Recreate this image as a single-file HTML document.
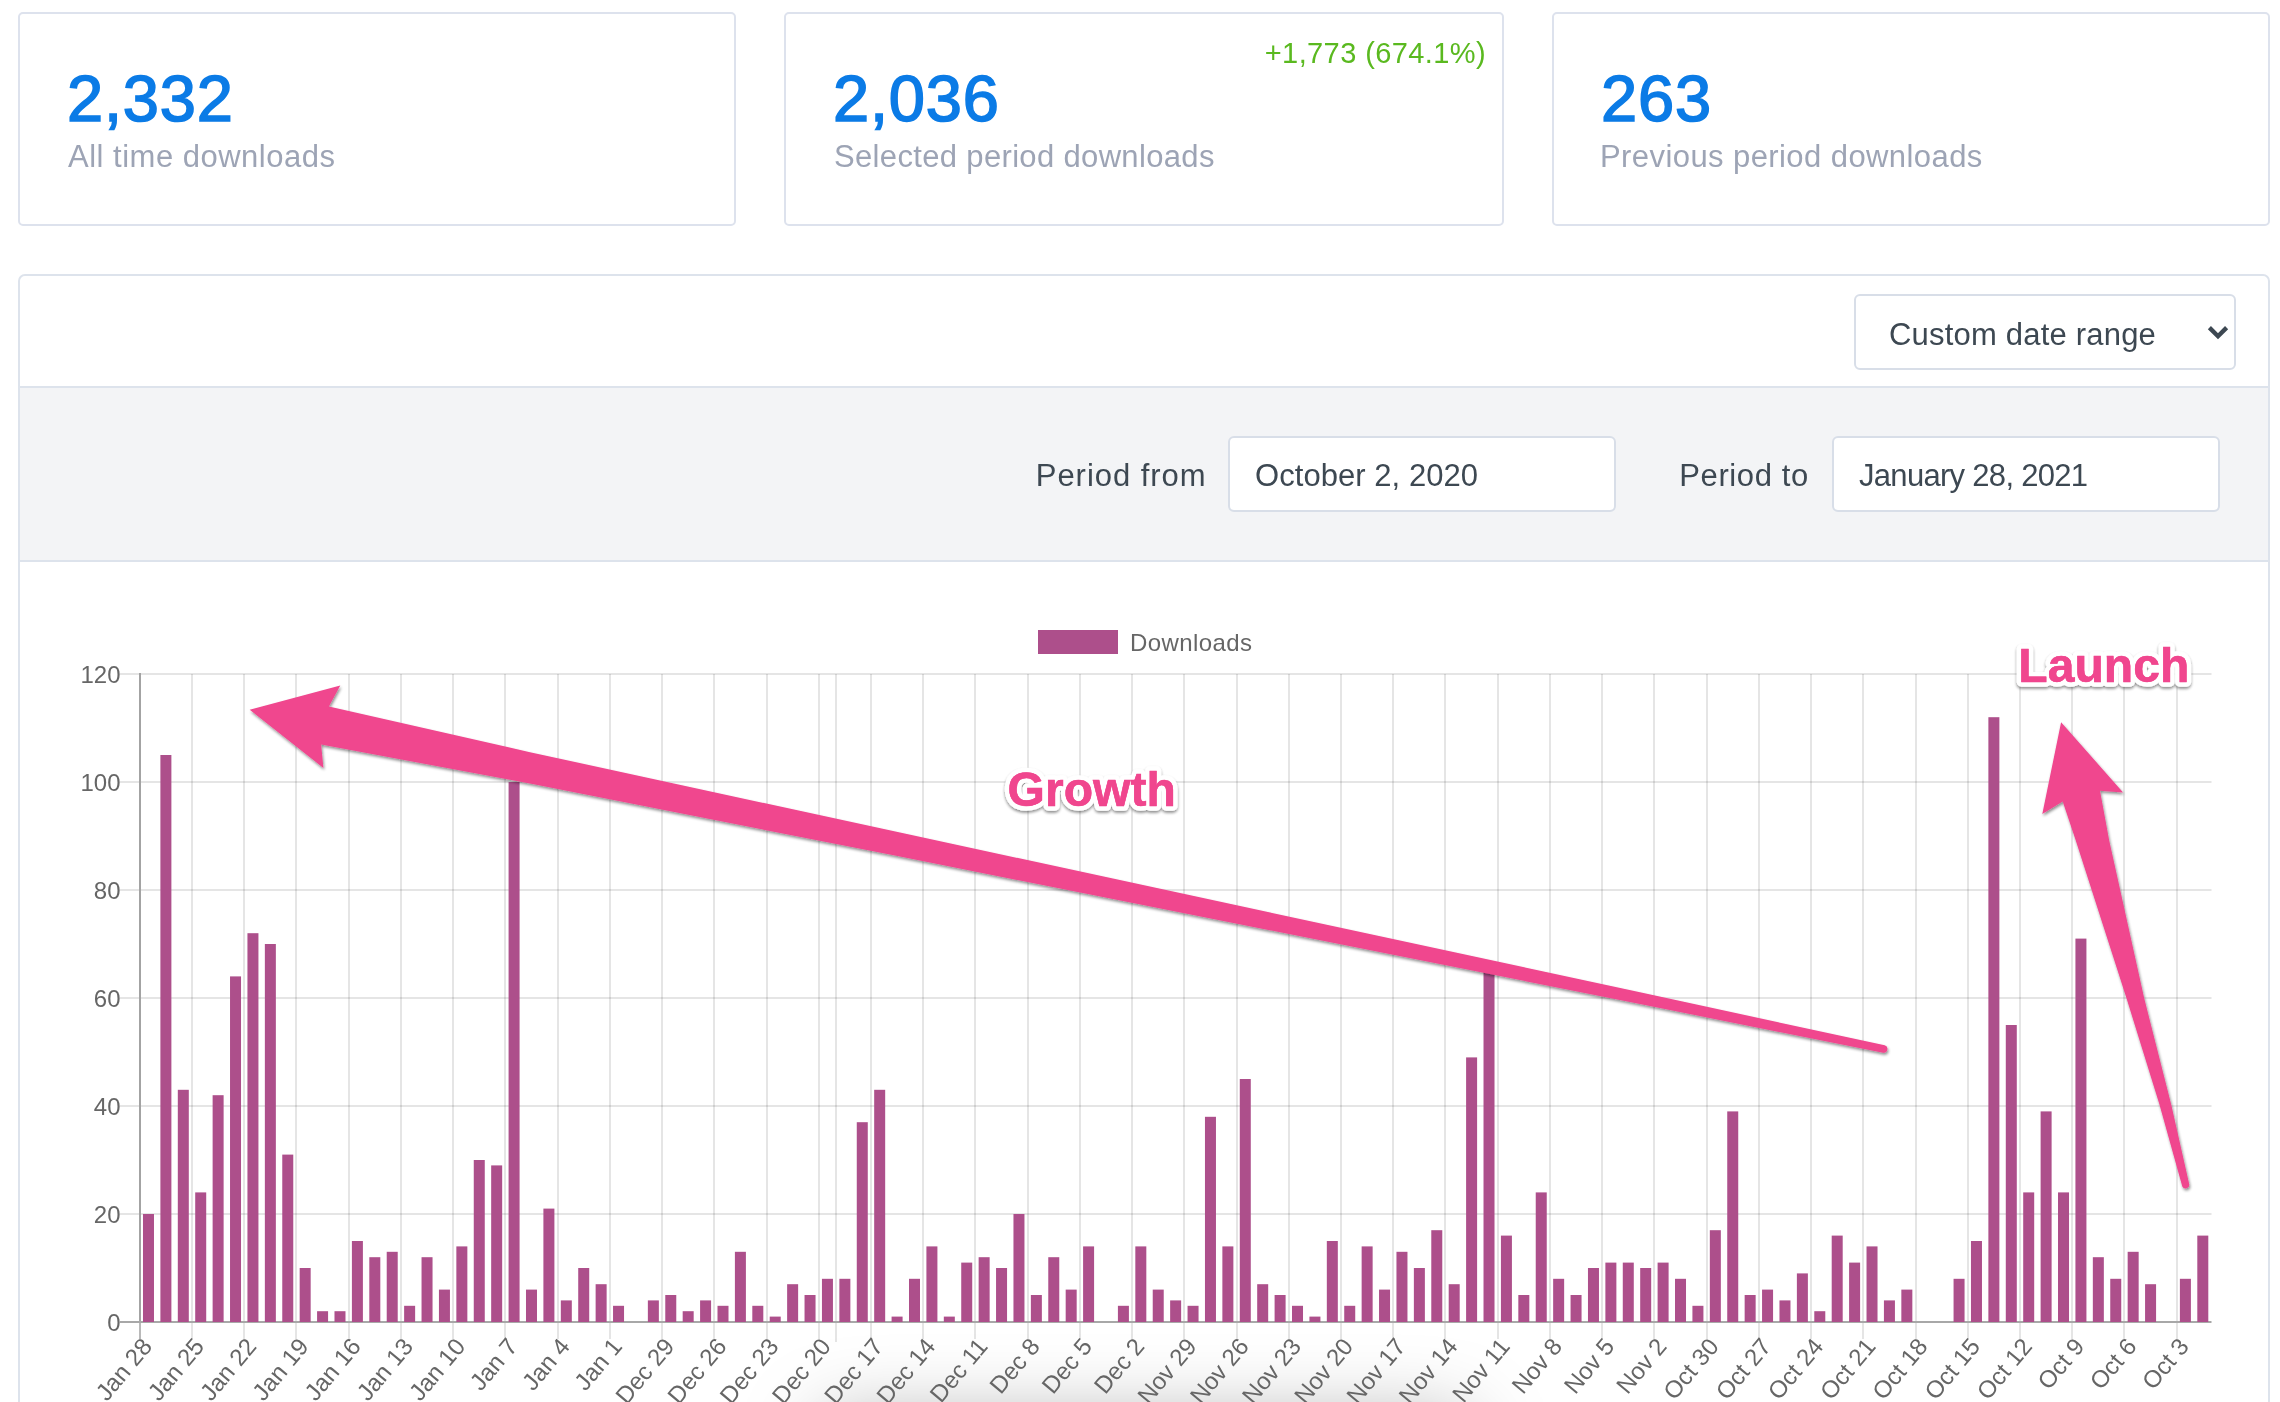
<!DOCTYPE html>
<html lang="en">
<head>
<meta charset="utf-8">
<title>Downloads</title>
<style>
html,body{margin:0;padding:0;background:#fff;overflow:hidden;}
body{width:2280px;height:1402px;}
#page{position:relative;width:2280px;height:1402px;overflow:hidden;background:#fff;will-change:transform;font-family:"Liberation Sans",sans-serif;}
.card{position:absolute;top:12px;height:214px;box-sizing:border-box;border:2px solid #dde2ed;border-radius:5px;background:#fff;}
.card .num{position:absolute;left:48px;top:48px;font-size:65px;line-height:74px;font-weight:normal;color:#0b7be6;-webkit-text-stroke:1.6px #0b7be6;letter-spacing:0.8px;margin-left:-1px;white-space:nowrap;}
.card .lab{position:absolute;left:48px;top:124.5px;font-size:31px;line-height:36px;color:#9da4b5;letter-spacing:0.5px;white-space:nowrap;}
.card .delta{position:absolute;right:16px;top:21px;font-size:29px;line-height:36px;color:#5ab91f;letter-spacing:0.4px;white-space:nowrap;}
.panel{position:absolute;left:18px;top:274px;width:2252px;height:1160px;box-sizing:border-box;border:2px solid #dde3ec;border-radius:7px;background:#fff;}
.filters{position:absolute;left:20px;top:386px;width:2248px;height:176px;box-sizing:border-box;border-top:2px solid #dde3ec;border-bottom:2px solid #dde3ec;background:#f3f4f6;}
.ctl{position:absolute;height:76px;box-sizing:border-box;border:2px solid #d8dee8;border-radius:6px;background:#fff;color:#3d4852;font-size:31px;line-height:72px;white-space:nowrap;letter-spacing:0.2px;}
.flab{position:absolute;font-size:31px;line-height:36px;color:#3d4852;white-space:nowrap;letter-spacing:0.2px;}
svg.chart{position:absolute;left:0;top:0;}
.winshadow{position:absolute;left:822px;top:1422px;width:646px;height:200px;border-radius:12px;background:#999;box-shadow:0 0 80px 0 rgba(0,0,0,0.345);}
svg text{font-family:"Liberation Sans",sans-serif;}
</style>
</head>
<body>
<div id="page">
<div class="card" style="left:18px;width:718px;"><div class="num">2,332</div><div class="lab">All time downloads</div></div>
<div class="card" style="left:784px;width:720px;"><div class="delta">+1,773 (674.1%)</div><div class="num">2,036</div><div class="lab" style="letter-spacing:0.34px">Selected period downloads</div></div>
<div class="card" style="left:1552px;width:718px;"><div class="num">263</div><div class="lab" style="left:46px;letter-spacing:0.42px">Previous period downloads</div></div>
<div class="panel"></div>
<div class="winshadow"></div>
<div class="ctl" style="left:1854px;top:294px;width:382px;"><span style="position:absolute;left:33px;top:3px;">Custom date range</span>
<svg width="24" height="18" viewBox="0 0 24 18" style="position:absolute;left:350px;top:28px;"><path d="M3.4 3.6 L12 12.2 L20.6 3.6" fill="none" stroke="#3d4852" stroke-width="4.4"/></svg></div>
<div class="filters"></div>
<div class="flab" style="left:1035.8px;top:458px;letter-spacing:0.95px;">Period from</div>
<div class="ctl" style="left:1228px;top:436px;width:388px;"><span style="position:absolute;left:25px;top:2px;letter-spacing:0.05px;">October 2, 2020</span></div>
<div class="flab" style="left:1679.3px;top:458px;letter-spacing:0.6px;">Period to</div>
<div class="ctl" style="left:1832px;top:436px;width:388px;"><span style="position:absolute;left:25px;top:2px;letter-spacing:-0.7px;">January 28, 2021</span></div>
<svg class="chart" width="2280" height="1402" viewBox="0 0 2280 1402">
<defs>
<filter id="ds" x="-5%" y="-5%" width="110%" height="115%"><feGaussianBlur in="SourceAlpha" stdDeviation="1.4"/><feOffset dx="1" dy="2.2"/><feComponentTransfer><feFuncA type="linear" slope="0.45"/></feComponentTransfer><feMerge><feMergeNode/><feMergeNode in="SourceGraphic"/></feMerge></filter>
<filter id="ts" x="-10%" y="-20%" width="120%" height="150%"><feGaussianBlur in="SourceAlpha" stdDeviation="1.5"/><feOffset dx="0" dy="2"/><feComponentTransfer><feFuncA type="linear" slope="0.45"/></feComponentTransfer><feMerge><feMergeNode/><feMergeNode in="SourceGraphic"/></feMerge></filter>
<radialGradient id="bsh" cx="0.5" cy="1" r="1" gradientTransform="translate(0.5 1) scale(0.5 1) translate(-0.5 -1)"><stop offset="0" stop-color="#000" stop-opacity="0.20"/><stop offset="0.45" stop-color="#000" stop-opacity="0.10"/><stop offset="0.8" stop-color="#000" stop-opacity="0.025"/><stop offset="1" stop-color="#000" stop-opacity="0"/></radialGradient>
</defs>
<rect x="1038" y="630" width="80" height="24" fill="#ad4f8b"/>
<text x="1130" y="650.5" font-size="24" fill="#666666" letter-spacing="0.4">Downloads</text>
<rect x="120" y="1321.0" width="20" height="2" fill="#000" fill-opacity="0.1"/>
<text x="120.5" y="1330.5" font-size="24" fill="#666666" text-anchor="end">0</text>
<rect x="120" y="1213.0" width="2091.5" height="2" fill="#000" fill-opacity="0.1"/>
<text x="120.5" y="1222.5" font-size="24" fill="#666666" text-anchor="end">20</text>
<rect x="120" y="1105.0" width="2091.5" height="2" fill="#000" fill-opacity="0.1"/>
<text x="120.5" y="1114.5" font-size="24" fill="#666666" text-anchor="end">40</text>
<rect x="120" y="997.0" width="2091.5" height="2" fill="#000" fill-opacity="0.1"/>
<text x="120.5" y="1006.5" font-size="24" fill="#666666" text-anchor="end">60</text>
<rect x="120" y="889.0" width="2091.5" height="2" fill="#000" fill-opacity="0.1"/>
<text x="120.5" y="898.5" font-size="24" fill="#666666" text-anchor="end">80</text>
<rect x="120" y="781.0" width="2091.5" height="2" fill="#000" fill-opacity="0.1"/>
<text x="120.5" y="790.5" font-size="24" fill="#666666" text-anchor="end">100</text>
<rect x="120" y="673.0" width="2091.5" height="2" fill="#000" fill-opacity="0.1"/>
<text x="120.5" y="682.5" font-size="24" fill="#666666" text-anchor="end">120</text>
<rect x="191.0" y="674.0" width="2" height="665.0" fill="#000" fill-opacity="0.1"/>
<rect x="243.0" y="674.0" width="2" height="665.0" fill="#000" fill-opacity="0.1"/>
<rect x="295.0" y="674.0" width="2" height="665.0" fill="#000" fill-opacity="0.1"/>
<rect x="348.0" y="674.0" width="2" height="665.0" fill="#000" fill-opacity="0.1"/>
<rect x="400.0" y="674.0" width="2" height="665.0" fill="#000" fill-opacity="0.1"/>
<rect x="452.0" y="674.0" width="2" height="665.0" fill="#000" fill-opacity="0.1"/>
<rect x="504.0" y="674.0" width="2" height="665.0" fill="#000" fill-opacity="0.1"/>
<rect x="557.0" y="674.0" width="2" height="665.0" fill="#000" fill-opacity="0.1"/>
<rect x="609.0" y="674.0" width="2" height="665.0" fill="#000" fill-opacity="0.1"/>
<rect x="661.0" y="674.0" width="2" height="665.0" fill="#000" fill-opacity="0.1"/>
<rect x="713.0" y="674.0" width="2" height="665.0" fill="#000" fill-opacity="0.1"/>
<rect x="766.0" y="674.0" width="2" height="665.0" fill="#000" fill-opacity="0.1"/>
<rect x="818.0" y="674.0" width="2" height="665.0" fill="#000" fill-opacity="0.1"/>
<rect x="870.0" y="674.0" width="2" height="665.0" fill="#000" fill-opacity="0.1"/>
<rect x="922.0" y="674.0" width="2" height="665.0" fill="#000" fill-opacity="0.1"/>
<rect x="974.0" y="674.0" width="2" height="665.0" fill="#000" fill-opacity="0.1"/>
<rect x="1027.0" y="674.0" width="2" height="665.0" fill="#000" fill-opacity="0.1"/>
<rect x="1079.0" y="674.0" width="2" height="665.0" fill="#000" fill-opacity="0.1"/>
<rect x="1131.0" y="674.0" width="2" height="665.0" fill="#000" fill-opacity="0.1"/>
<rect x="1183.0" y="674.0" width="2" height="665.0" fill="#000" fill-opacity="0.1"/>
<rect x="1236.0" y="674.0" width="2" height="665.0" fill="#000" fill-opacity="0.1"/>
<rect x="1288.0" y="674.0" width="2" height="665.0" fill="#000" fill-opacity="0.1"/>
<rect x="1340.0" y="674.0" width="2" height="665.0" fill="#000" fill-opacity="0.1"/>
<rect x="1392.0" y="674.0" width="2" height="665.0" fill="#000" fill-opacity="0.1"/>
<rect x="1444.0" y="674.0" width="2" height="665.0" fill="#000" fill-opacity="0.1"/>
<rect x="1497.0" y="674.0" width="2" height="665.0" fill="#000" fill-opacity="0.1"/>
<rect x="1549.0" y="674.0" width="2" height="665.0" fill="#000" fill-opacity="0.1"/>
<rect x="1601.0" y="674.0" width="2" height="665.0" fill="#000" fill-opacity="0.1"/>
<rect x="1653.0" y="674.0" width="2" height="665.0" fill="#000" fill-opacity="0.1"/>
<rect x="1706.0" y="674.0" width="2" height="665.0" fill="#000" fill-opacity="0.1"/>
<rect x="1758.0" y="674.0" width="2" height="665.0" fill="#000" fill-opacity="0.1"/>
<rect x="1810.0" y="674.0" width="2" height="665.0" fill="#000" fill-opacity="0.1"/>
<rect x="1862.0" y="674.0" width="2" height="665.0" fill="#000" fill-opacity="0.1"/>
<rect x="1915.0" y="674.0" width="2" height="665.0" fill="#000" fill-opacity="0.1"/>
<rect x="1967.0" y="674.0" width="2" height="665.0" fill="#000" fill-opacity="0.1"/>
<rect x="2019.0" y="674.0" width="2" height="665.0" fill="#000" fill-opacity="0.1"/>
<rect x="2071.0" y="674.0" width="2" height="665.0" fill="#000" fill-opacity="0.1"/>
<rect x="2123.0" y="674.0" width="2" height="665.0" fill="#000" fill-opacity="0.1"/>
<rect x="2176.0" y="674.0" width="2" height="665.0" fill="#000" fill-opacity="0.1"/>
<rect x="835.0" y="674.0" width="2" height="668.0" fill="#000" fill-opacity="0.1"/>
<rect x="139" y="673.0" width="2" height="650.0" fill="#a3a3a3"/>
<rect x="139" y="1323.0" width="2" height="16" fill="#b9b9b9"/>
<rect x="120" y="1321.0" width="2091.5" height="2" fill="#a8a8a8"/>
<rect x="142.98" y="1214.00" width="11.0" height="108.00" fill="#ad4f8b"/>
<rect x="160.39" y="755.00" width="11.0" height="567.00" fill="#ad4f8b"/>
<rect x="177.80" y="1089.80" width="11.0" height="232.20" fill="#ad4f8b"/>
<rect x="195.21" y="1192.40" width="11.0" height="129.60" fill="#ad4f8b"/>
<rect x="212.62" y="1095.20" width="11.0" height="226.80" fill="#ad4f8b"/>
<rect x="230.03" y="976.40" width="11.0" height="345.60" fill="#ad4f8b"/>
<rect x="247.44" y="933.20" width="11.0" height="388.80" fill="#ad4f8b"/>
<rect x="264.85" y="944.00" width="11.0" height="378.00" fill="#ad4f8b"/>
<rect x="282.26" y="1154.60" width="11.0" height="167.40" fill="#ad4f8b"/>
<rect x="299.67" y="1268.00" width="11.0" height="54.00" fill="#ad4f8b"/>
<rect x="317.08" y="1311.20" width="11.0" height="10.80" fill="#ad4f8b"/>
<rect x="334.49" y="1311.20" width="11.0" height="10.80" fill="#ad4f8b"/>
<rect x="351.90" y="1241.00" width="11.0" height="81.00" fill="#ad4f8b"/>
<rect x="369.31" y="1257.20" width="11.0" height="64.80" fill="#ad4f8b"/>
<rect x="386.72" y="1251.80" width="11.0" height="70.20" fill="#ad4f8b"/>
<rect x="404.13" y="1305.80" width="11.0" height="16.20" fill="#ad4f8b"/>
<rect x="421.54" y="1257.20" width="11.0" height="64.80" fill="#ad4f8b"/>
<rect x="438.94" y="1289.60" width="11.0" height="32.40" fill="#ad4f8b"/>
<rect x="456.35" y="1246.40" width="11.0" height="75.60" fill="#ad4f8b"/>
<rect x="473.76" y="1160.00" width="11.0" height="162.00" fill="#ad4f8b"/>
<rect x="491.17" y="1165.40" width="11.0" height="156.60" fill="#ad4f8b"/>
<rect x="508.58" y="782.00" width="11.0" height="540.00" fill="#ad4f8b"/>
<rect x="525.99" y="1289.60" width="11.0" height="32.40" fill="#ad4f8b"/>
<rect x="543.40" y="1208.60" width="11.0" height="113.40" fill="#ad4f8b"/>
<rect x="560.81" y="1300.40" width="11.0" height="21.60" fill="#ad4f8b"/>
<rect x="578.22" y="1268.00" width="11.0" height="54.00" fill="#ad4f8b"/>
<rect x="595.63" y="1284.20" width="11.0" height="37.80" fill="#ad4f8b"/>
<rect x="613.04" y="1305.80" width="11.0" height="16.20" fill="#ad4f8b"/>
<rect x="647.86" y="1300.40" width="11.0" height="21.60" fill="#ad4f8b"/>
<rect x="665.27" y="1295.00" width="11.0" height="27.00" fill="#ad4f8b"/>
<rect x="682.68" y="1311.20" width="11.0" height="10.80" fill="#ad4f8b"/>
<rect x="700.09" y="1300.40" width="11.0" height="21.60" fill="#ad4f8b"/>
<rect x="717.50" y="1305.80" width="11.0" height="16.20" fill="#ad4f8b"/>
<rect x="734.90" y="1251.80" width="11.0" height="70.20" fill="#ad4f8b"/>
<rect x="752.31" y="1305.80" width="11.0" height="16.20" fill="#ad4f8b"/>
<rect x="769.72" y="1316.60" width="11.0" height="5.40" fill="#ad4f8b"/>
<rect x="787.13" y="1284.20" width="11.0" height="37.80" fill="#ad4f8b"/>
<rect x="804.54" y="1295.00" width="11.0" height="27.00" fill="#ad4f8b"/>
<rect x="821.95" y="1278.80" width="11.0" height="43.20" fill="#ad4f8b"/>
<rect x="839.36" y="1278.80" width="11.0" height="43.20" fill="#ad4f8b"/>
<rect x="856.77" y="1122.20" width="11.0" height="199.80" fill="#ad4f8b"/>
<rect x="874.18" y="1089.80" width="11.0" height="232.20" fill="#ad4f8b"/>
<rect x="891.59" y="1316.60" width="11.0" height="5.40" fill="#ad4f8b"/>
<rect x="909.00" y="1278.80" width="11.0" height="43.20" fill="#ad4f8b"/>
<rect x="926.41" y="1246.40" width="11.0" height="75.60" fill="#ad4f8b"/>
<rect x="943.82" y="1316.60" width="11.0" height="5.40" fill="#ad4f8b"/>
<rect x="961.23" y="1262.60" width="11.0" height="59.40" fill="#ad4f8b"/>
<rect x="978.64" y="1257.20" width="11.0" height="64.80" fill="#ad4f8b"/>
<rect x="996.05" y="1268.00" width="11.0" height="54.00" fill="#ad4f8b"/>
<rect x="1013.46" y="1214.00" width="11.0" height="108.00" fill="#ad4f8b"/>
<rect x="1030.86" y="1295.00" width="11.0" height="27.00" fill="#ad4f8b"/>
<rect x="1048.27" y="1257.20" width="11.0" height="64.80" fill="#ad4f8b"/>
<rect x="1065.68" y="1289.60" width="11.0" height="32.40" fill="#ad4f8b"/>
<rect x="1083.09" y="1246.40" width="11.0" height="75.60" fill="#ad4f8b"/>
<rect x="1117.91" y="1305.80" width="11.0" height="16.20" fill="#ad4f8b"/>
<rect x="1135.32" y="1246.40" width="11.0" height="75.60" fill="#ad4f8b"/>
<rect x="1152.73" y="1289.60" width="11.0" height="32.40" fill="#ad4f8b"/>
<rect x="1170.14" y="1300.40" width="11.0" height="21.60" fill="#ad4f8b"/>
<rect x="1187.55" y="1305.80" width="11.0" height="16.20" fill="#ad4f8b"/>
<rect x="1204.96" y="1116.80" width="11.0" height="205.20" fill="#ad4f8b"/>
<rect x="1222.37" y="1246.40" width="11.0" height="75.60" fill="#ad4f8b"/>
<rect x="1239.78" y="1079.00" width="11.0" height="243.00" fill="#ad4f8b"/>
<rect x="1257.19" y="1284.20" width="11.0" height="37.80" fill="#ad4f8b"/>
<rect x="1274.60" y="1295.00" width="11.0" height="27.00" fill="#ad4f8b"/>
<rect x="1292.01" y="1305.80" width="11.0" height="16.20" fill="#ad4f8b"/>
<rect x="1309.42" y="1316.60" width="11.0" height="5.40" fill="#ad4f8b"/>
<rect x="1326.82" y="1241.00" width="11.0" height="81.00" fill="#ad4f8b"/>
<rect x="1344.23" y="1305.80" width="11.0" height="16.20" fill="#ad4f8b"/>
<rect x="1361.64" y="1246.40" width="11.0" height="75.60" fill="#ad4f8b"/>
<rect x="1379.05" y="1289.60" width="11.0" height="32.40" fill="#ad4f8b"/>
<rect x="1396.46" y="1251.80" width="11.0" height="70.20" fill="#ad4f8b"/>
<rect x="1413.87" y="1268.00" width="11.0" height="54.00" fill="#ad4f8b"/>
<rect x="1431.28" y="1230.20" width="11.0" height="91.80" fill="#ad4f8b"/>
<rect x="1448.69" y="1284.20" width="11.0" height="37.80" fill="#ad4f8b"/>
<rect x="1466.10" y="1057.40" width="11.0" height="264.60" fill="#ad4f8b"/>
<rect x="1483.51" y="971.00" width="11.0" height="351.00" fill="#ad4f8b"/>
<rect x="1500.92" y="1235.60" width="11.0" height="86.40" fill="#ad4f8b"/>
<rect x="1518.33" y="1295.00" width="11.0" height="27.00" fill="#ad4f8b"/>
<rect x="1535.74" y="1192.40" width="11.0" height="129.60" fill="#ad4f8b"/>
<rect x="1553.15" y="1278.80" width="11.0" height="43.20" fill="#ad4f8b"/>
<rect x="1570.56" y="1295.00" width="11.0" height="27.00" fill="#ad4f8b"/>
<rect x="1587.97" y="1268.00" width="11.0" height="54.00" fill="#ad4f8b"/>
<rect x="1605.38" y="1262.60" width="11.0" height="59.40" fill="#ad4f8b"/>
<rect x="1622.78" y="1262.60" width="11.0" height="59.40" fill="#ad4f8b"/>
<rect x="1640.19" y="1268.00" width="11.0" height="54.00" fill="#ad4f8b"/>
<rect x="1657.60" y="1262.60" width="11.0" height="59.40" fill="#ad4f8b"/>
<rect x="1675.01" y="1278.80" width="11.0" height="43.20" fill="#ad4f8b"/>
<rect x="1692.42" y="1305.80" width="11.0" height="16.20" fill="#ad4f8b"/>
<rect x="1709.83" y="1230.20" width="11.0" height="91.80" fill="#ad4f8b"/>
<rect x="1727.24" y="1111.40" width="11.0" height="210.60" fill="#ad4f8b"/>
<rect x="1744.65" y="1295.00" width="11.0" height="27.00" fill="#ad4f8b"/>
<rect x="1762.06" y="1289.60" width="11.0" height="32.40" fill="#ad4f8b"/>
<rect x="1779.47" y="1300.40" width="11.0" height="21.60" fill="#ad4f8b"/>
<rect x="1796.88" y="1273.40" width="11.0" height="48.60" fill="#ad4f8b"/>
<rect x="1814.29" y="1311.20" width="11.0" height="10.80" fill="#ad4f8b"/>
<rect x="1831.70" y="1235.60" width="11.0" height="86.40" fill="#ad4f8b"/>
<rect x="1849.11" y="1262.60" width="11.0" height="59.40" fill="#ad4f8b"/>
<rect x="1866.52" y="1246.40" width="11.0" height="75.60" fill="#ad4f8b"/>
<rect x="1883.93" y="1300.40" width="11.0" height="21.60" fill="#ad4f8b"/>
<rect x="1901.34" y="1289.60" width="11.0" height="32.40" fill="#ad4f8b"/>
<rect x="1953.56" y="1278.80" width="11.0" height="43.20" fill="#ad4f8b"/>
<rect x="1970.97" y="1241.00" width="11.0" height="81.00" fill="#ad4f8b"/>
<rect x="1988.38" y="717.20" width="11.0" height="604.80" fill="#ad4f8b"/>
<rect x="2005.79" y="1025.00" width="11.0" height="297.00" fill="#ad4f8b"/>
<rect x="2023.20" y="1192.40" width="11.0" height="129.60" fill="#ad4f8b"/>
<rect x="2040.61" y="1111.40" width="11.0" height="210.60" fill="#ad4f8b"/>
<rect x="2058.02" y="1192.40" width="11.0" height="129.60" fill="#ad4f8b"/>
<rect x="2075.43" y="938.60" width="11.0" height="383.40" fill="#ad4f8b"/>
<rect x="2092.84" y="1257.20" width="11.0" height="64.80" fill="#ad4f8b"/>
<rect x="2110.25" y="1278.80" width="11.0" height="43.20" fill="#ad4f8b"/>
<rect x="2127.66" y="1251.80" width="11.0" height="70.20" fill="#ad4f8b"/>
<rect x="2145.07" y="1284.20" width="11.0" height="37.80" fill="#ad4f8b"/>
<rect x="2179.89" y="1278.80" width="11.0" height="43.20" fill="#ad4f8b"/>
<rect x="2197.30" y="1235.60" width="11.0" height="86.40" fill="#ad4f8b"/>
<text transform="translate(140.2 1336.2) rotate(-50)" font-size="24" fill="#666666" text-anchor="end" y="17">Jan 28</text>
<text transform="translate(192.4 1336.2) rotate(-50)" font-size="24" fill="#666666" text-anchor="end" y="17">Jan 25</text>
<text transform="translate(244.6 1336.2) rotate(-50)" font-size="24" fill="#666666" text-anchor="end" y="17">Jan 22</text>
<text transform="translate(296.9 1336.2) rotate(-50)" font-size="24" fill="#666666" text-anchor="end" y="17">Jan 19</text>
<text transform="translate(349.1 1336.2) rotate(-50)" font-size="24" fill="#666666" text-anchor="end" y="17">Jan 16</text>
<text transform="translate(401.3 1336.2) rotate(-50)" font-size="24" fill="#666666" text-anchor="end" y="17">Jan 13</text>
<text transform="translate(453.5 1336.2) rotate(-50)" font-size="24" fill="#666666" text-anchor="end" y="17">Jan 10</text>
<text transform="translate(505.8 1336.2) rotate(-50)" font-size="24" fill="#666666" text-anchor="end" y="17">Jan 7</text>
<text transform="translate(558.0 1336.2) rotate(-50)" font-size="24" fill="#666666" text-anchor="end" y="17">Jan 4</text>
<text transform="translate(610.2 1336.2) rotate(-50)" font-size="24" fill="#666666" text-anchor="end" y="17">Jan 1</text>
<text transform="translate(662.5 1336.2) rotate(-50)" font-size="24" fill="#666666" text-anchor="end" y="17">Dec 29</text>
<text transform="translate(714.7 1336.2) rotate(-50)" font-size="24" fill="#666666" text-anchor="end" y="17">Dec 26</text>
<text transform="translate(766.9 1336.2) rotate(-50)" font-size="24" fill="#666666" text-anchor="end" y="17">Dec 23</text>
<text transform="translate(819.1 1336.2) rotate(-50)" font-size="24" fill="#666666" text-anchor="end" y="17">Dec 20</text>
<text transform="translate(871.4 1336.2) rotate(-50)" font-size="24" fill="#666666" text-anchor="end" y="17">Dec 17</text>
<text transform="translate(923.6 1336.2) rotate(-50)" font-size="24" fill="#666666" text-anchor="end" y="17">Dec 14</text>
<text transform="translate(975.8 1336.2) rotate(-50)" font-size="24" fill="#666666" text-anchor="end" y="17">Dec 11</text>
<text transform="translate(1028.1 1336.2) rotate(-50)" font-size="24" fill="#666666" text-anchor="end" y="17">Dec 8</text>
<text transform="translate(1080.3 1336.2) rotate(-50)" font-size="24" fill="#666666" text-anchor="end" y="17">Dec 5</text>
<text transform="translate(1132.5 1336.2) rotate(-50)" font-size="24" fill="#666666" text-anchor="end" y="17">Dec 2</text>
<text transform="translate(1184.7 1336.2) rotate(-50)" font-size="24" fill="#666666" text-anchor="end" y="17">Nov 29</text>
<text transform="translate(1237.0 1336.2) rotate(-50)" font-size="24" fill="#666666" text-anchor="end" y="17">Nov 26</text>
<text transform="translate(1289.2 1336.2) rotate(-50)" font-size="24" fill="#666666" text-anchor="end" y="17">Nov 23</text>
<text transform="translate(1341.4 1336.2) rotate(-50)" font-size="24" fill="#666666" text-anchor="end" y="17">Nov 20</text>
<text transform="translate(1393.7 1336.2) rotate(-50)" font-size="24" fill="#666666" text-anchor="end" y="17">Nov 17</text>
<text transform="translate(1445.9 1336.2) rotate(-50)" font-size="24" fill="#666666" text-anchor="end" y="17">Nov 14</text>
<text transform="translate(1498.1 1336.2) rotate(-50)" font-size="24" fill="#666666" text-anchor="end" y="17">Nov 11</text>
<text transform="translate(1550.3 1336.2) rotate(-50)" font-size="24" fill="#666666" text-anchor="end" y="17">Nov 8</text>
<text transform="translate(1602.6 1336.2) rotate(-50)" font-size="24" fill="#666666" text-anchor="end" y="17">Nov 5</text>
<text transform="translate(1654.8 1336.2) rotate(-50)" font-size="24" fill="#666666" text-anchor="end" y="17">Nov 2</text>
<text transform="translate(1707.0 1336.2) rotate(-50)" font-size="24" fill="#666666" text-anchor="end" y="17">Oct 30</text>
<text transform="translate(1759.3 1336.2) rotate(-50)" font-size="24" fill="#666666" text-anchor="end" y="17">Oct 27</text>
<text transform="translate(1811.5 1336.2) rotate(-50)" font-size="24" fill="#666666" text-anchor="end" y="17">Oct 24</text>
<text transform="translate(1863.7 1336.2) rotate(-50)" font-size="24" fill="#666666" text-anchor="end" y="17">Oct 21</text>
<text transform="translate(1915.9 1336.2) rotate(-50)" font-size="24" fill="#666666" text-anchor="end" y="17">Oct 18</text>
<text transform="translate(1968.2 1336.2) rotate(-50)" font-size="24" fill="#666666" text-anchor="end" y="17">Oct 15</text>
<text transform="translate(2020.4 1336.2) rotate(-50)" font-size="24" fill="#666666" text-anchor="end" y="17">Oct 12</text>
<text transform="translate(2072.6 1336.2) rotate(-50)" font-size="24" fill="#666666" text-anchor="end" y="17">Oct 9</text>
<text transform="translate(2124.9 1336.2) rotate(-50)" font-size="24" fill="#666666" text-anchor="end" y="17">Oct 6</text>
<text transform="translate(2177.1 1336.2) rotate(-50)" font-size="24" fill="#666666" text-anchor="end" y="17">Oct 3</text>
<path d="M249.7,709.7 L340.3,685.4 L328.9,706.6 L530.0,752.2 L900.0,832.6 L1640.0,992.3 L1884.7,1045.3 A3.85,3.85 0 0 1 1883.1,1052.8 L1640.0,1004.0 L900.0,856.6 L530.0,783.5 L321.1,744.5 L323.4,767.9 Z" fill="#f0468e" filter="url(#ds)"/>
<path d="M2061.1,722.3 L2123.1,792.4 L2100.0,790.8 L2109.1,840.0 L2144.2,998.3 L2171.1,1103.9 L2189.3,1184.4 A3.7,3.7 0 0 1 2182.3,1186.4 L2159.3,1103.9 L2126.5,998.3 L2075.6,840.0 L2062.7,801.5 L2042.3,813.9 Z" fill="#f0468e" filter="url(#ds)"/>
<g filter="url(#ts)" font-weight="bold" font-size="48.1" fill="#f0468e" stroke="#fff" stroke-width="9.5" stroke-linejoin="round" paint-order="stroke fill">
<text x="1007.5" y="806.2">Growth</text>
<text x="2018.3" y="681.7">Launch</text>
</g>
<g font-weight="bold" font-size="48.1" fill="#f0468e" stroke="#f0468e" stroke-width="0.5">
<text x="1007.5" y="806.2">Growth</text>
<text x="2018.3" y="681.7">Launch</text>
</g>
</svg>
</div>
</body>
</html>
